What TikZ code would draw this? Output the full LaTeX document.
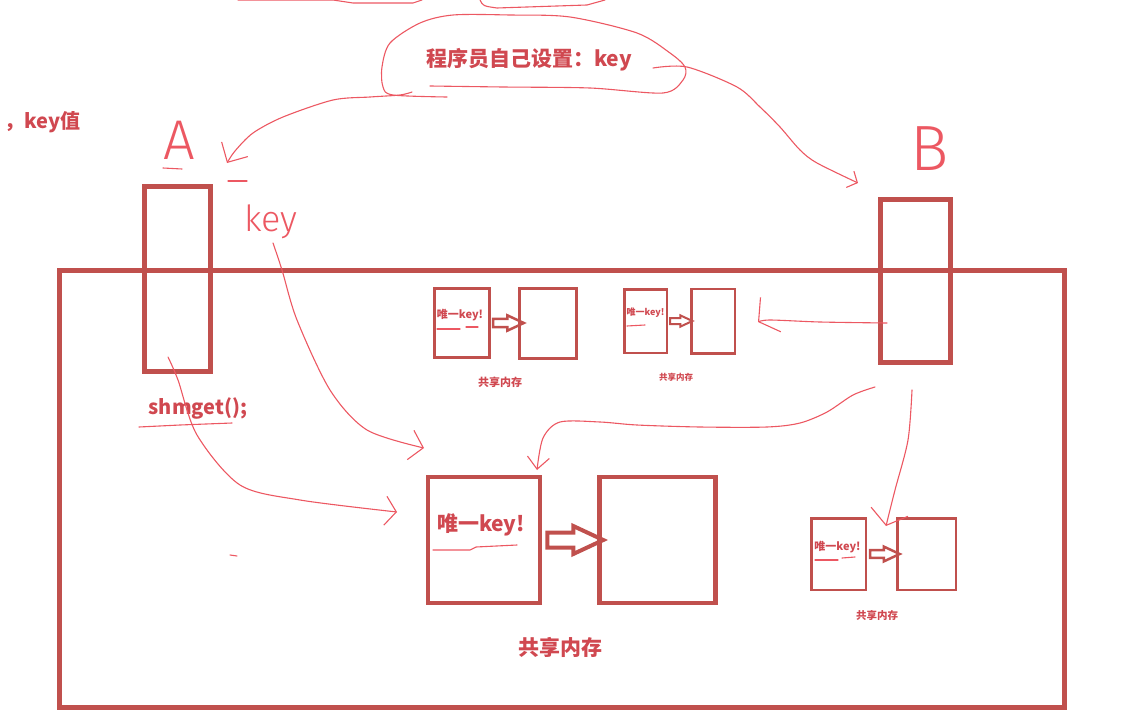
\documentclass[tikz,border=0pt]{standalone}
\usepackage{fontspec}
\newfontfamily\cjk{Noto Sans CJK SC}
\newfontfamily\handfont{Fira Sans Light}
\usetikzlibrary{positioning, arrows.meta}
\definecolor{boxred}{RGB}{192,80,77}
\definecolor{penred}{RGB}{236,88,98}
\definecolor{inkred}{RGB}{208,72,80}
\newcommand{\fsz}[1]{\fontsize{#1}{#1}\selectfont}

\begin{document}
\begin{tikzpicture}[x=1pt, y=-1pt,
  outerbox/.style={draw=boxred, line width=5pt, inner sep=0pt},
  keybox/.style={draw=boxred, inner sep=0pt},
  redtext/.style={text=inkred, inner sep=0pt, font=\cjk\bfseries},
  hand/.style={text=penred, inner sep=0pt},
  pen/.style={draw=penred, line width=1.1pt, line cap=round, line join=round},
  barb/.style={-{Straight Barb[length=11pt, width=26pt]}},
  hollow/.style={draw=boxred, line join=miter},
  blockarrow/.pic={\draw[hollow] (0,-7.5) -- (26,-7.5) -- (26,-14) -- (56,0) -- (26,14) -- (26,7.5) -- (0,7.5) -- cycle;}]

  \useasboundingbox (0,0) rectangle (1129,725);

  % shared area and the two processes
  \node[outerbox, minimum width=1005.5pt, minimum height=437.5pt] (mem) at (562,489) {};
  \node[outerbox, minimum width=66pt, minimum height=185pt] (A) at (177,278.5) {};
  \node[outerbox, minimum width=70pt, minimum height=162.5pt] (B) at (915.5,281) {};

  \node[hand, font=\handfont\fsz{56}] (labA) at (179,140) {A};
  \node[hand, font=\handfont\fsz{64}] (labB) at (930,149) {B};
  \node[hand, font=\handfont\fsz{36}] (labKey) at (271,222) {key};
  \draw[pen] (163,168) -- (182,169);
  \draw[pen] (228,181) -- (247,181);

  \node[redtext, font=\cjk\bfseries\fsz{21}] (title) at (529,60) {程序员自己设置：key};
  \node[redtext, font=\cjk\bfseries\fsz{20}, anchor=east] (keyval) at (81,122) {，key值};
  \node[redtext, font=\cjk\bfseries\fsz{20}] (shm) at (198,408) {shmget();};
  \draw[pen] (139,427) -- (180,425) -- (232,423);

  % big pair
  \node[keybox, line width=4.5pt, minimum width=112pt, minimum height=126pt] (k0) at (484,540) {};
  \node[keybox, line width=4.5pt, minimum width=116pt, minimum height=126pt, right=55pt of k0] (m0) {};
  \node[redtext, font=\cjk\bfseries\fsz{21}] (t0) at ([xshift=-3pt, yshift=15pt]k0.center) {唯一key!};
  \draw[pen] (433,550) -- (470,550) -- (476,547) -- (517,545);
  \pic[line width=4pt] at ([xshift=5pt]k0.east) {blockarrow};
  \node[redtext, font=\cjk\bfseries\fsz{21}] (c0) at (560,647) {共享内存};

  % small pair 1
  \node[keybox, line width=3pt, minimum width=55pt, minimum height=69pt] (k1) at (462,323) {};
  \node[keybox, line width=3pt, minimum width=57pt, minimum height=70pt, right=27pt of k1] (m1) {};
  \node[redtext, font=\cjk\bfseries\fsz{11}] (t1) at ([xshift=-2pt, yshift=8pt]k1.center) {唯一key!};
  \draw[pen] (437,329) -- (460,329);
  \draw[pen] (466,327) -- (478,327);
  \pic[scale=0.55, line width=2.5pt] at ([xshift=2pt]k1.east) {blockarrow};
  \node[redtext, font=\cjk\bfseries\fsz{11}] (c1) at (500,382) {共享内存};

  % small pair 2
  \node[keybox, line width=2.5pt, minimum width=42.5pt, minimum height=63.5pt] (k2) at (645.5,321) {};
  \node[keybox, line width=2.5pt, minimum width=43.5pt, minimum height=64.5pt, right=22pt of k2] (m2) {};
  \node[redtext, font=\cjk\bfseries\fsz{9}] (t2) at ([yshift=8pt]k2.center) {唯一key!};
  \draw[pen] (627,326) -- (645,325);
  \pic[scale=0.4, line width=2pt] at ([xshift=2pt]k2.east) {blockarrow};
  \node[redtext, font=\cjk\bfseries\fsz{8.5}] (c2) at (676,377) {共享内存};

  % small pair 3
  \node[keybox, line width=2.5pt, minimum width=54.5pt, minimum height=71.5pt] (k3) at (838.5,554) {};
  \node[keybox, line width=2.5pt, minimum width=58.5pt, minimum height=71.5pt, right=29pt of k3] (m3) {};
  \node[redtext, font=\cjk\bfseries\fsz{11}] (t3) at ([xshift=-1pt, yshift=7pt]k3.center) {唯一key!};
  \draw[pen] (815,560) -- (838,560);
  \draw[pen] (842,558) -- (855,557);
  \pic[scale=0.53, line width=2.5pt] at ([xshift=3pt]k3.east) {blockarrow};
  \node[redtext, font=\cjk\bfseries\fsz{10.5}] (c3) at (877,615) {共享内存};

  % free ends of the hand-drawn connectors
  \coordinate (loopL) at (412,92);
  \coordinate (loopR) at (653,68);
  \coordinate (aTip) at (227,163);
  \coordinate (bTip) at (858,183);
  \coordinate (aIn) at (168,357);
  \coordinate (keyOut) at (273,243);
  \coordinate (bLeft) at (887,323);
  \coordinate (bLow) at (875,387);
  \coordinate (bDown) at (912,390);

  % loop round the title
  \draw[pen] plot[smooth] coordinates {(430,86) (503,87) (590,88) (663,93) (683,80) (685,67) (670,53) (637,33) (570,17) (510,15) (453,15) (420,23) (390,43) (382,67) (383,87) (393,95) (447,97)};
  \draw[pen, -{Straight Barb[length=15pt, width=30pt]}] plot[smooth] coordinates {(loopL) (400,95) (370,97) (333,100) (283,117) (253,133) (235,151) (aTip)};
  \draw[pen, -{Straight Barb[length=8pt, width=18pt]}] plot[smooth] coordinates {(loopR) (687,67) (737,87) (760,107) (780,127) (800,150) (817,163) (bTip)};

  % processes to shared memory
  \draw[pen, -{Straight Barb[length=11pt, width=29pt]}] plot[smooth] coordinates {(aIn) (178,380) (197,435) (240,485) (300,500) (397,512)};
  \draw[pen, -{Straight Barb[length=13pt, width=30pt]}] plot[smooth] coordinates {(keyOut) (282,270) (297,320) (330,390) (367,430) (424,448)};
  \draw[pen, -{Straight Barb[length=14pt, width=40pt]}] plot[smooth] coordinates {(bLeft) (820,322) (770,320) (758,322)};
  \draw[pen, -{Straight Barb[length=12pt, width=22pt]}] plot[smooth] coordinates {(bLow) (853,395) (827,412) (800,423) (767,427) (700,427) (637,425) (600,422) (560,422) (543,438) (537,470)};
  \draw[pen, -{Straight Barb[length=14pt, width=38pt]}] plot[smooth] coordinates {(bDown) (908,440) (895,490) (886,526)};

  % stray strokes
  \draw[pen] (238,0) -- (333,0) -- (353,3) -- (413,3) -- (422,0);
  \draw[pen] (480,0) .. controls (483,6) .. (497,8) -- (587,5) -- (605,0);
  \draw[pen] (230,555) -- (237,556);
\end{tikzpicture}
\end{document}
